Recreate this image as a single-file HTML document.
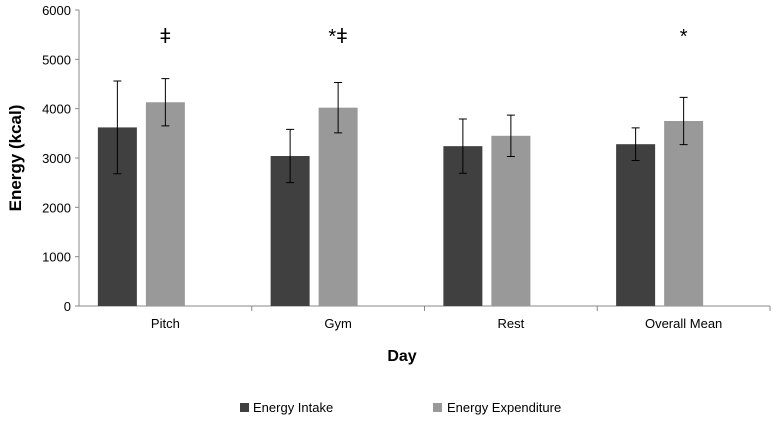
<!DOCTYPE html>
<html><head><meta charset="utf-8"><style>
body{margin:0;background:#fff;font-family:"Liberation Sans",sans-serif}
svg text{font-family:"Liberation Sans","DejaVu Sans",sans-serif}
</style></head><body>
<svg width="774" height="423" xmlns="http://www.w3.org/2000/svg">
<g id="chart"></g>
</svg>
<script>
const categories=["Pitch","Gym","Rest","Overall Mean"];
const intake=[3620,3040,3240,3280];
const expenditure=[4130,4020,3450,3750];
const intakeErr=[940,540,550,330];
const expErr=[480,510,420,480];
const annotations=["ǂ","*ǂ","","*"];
const yTicks=[0,1000,2000,3000,4000,5000,6000];
const ns="http://www.w3.org/2000/svg";
const g=document.getElementById('chart');
const x0=79,x1=770,yTop=10,yBot=306,yMax=6000;
const y=v=>yBot-(v/yMax)*(yBot-yTop);
const catW=(x1-x0)/categories.length;
const barShift=-24;
function mk(t,a,txt){const e=document.createElementNS(ns,t);for(const k in a)e.setAttribute(k,a[k]);if(txt!==undefined)e.textContent=txt;g.appendChild(e);return e;}
yTicks.forEach(v=>{
 const t=mk('text',{x:x0-8,y:y(v)+5,'text-anchor':'end','font-size':13,fill:'#000'},v);
 
 
 const l=mk('line',{x1:x0-4,x2:x0,y1:y(v),y2:y(v),stroke:'#888'});
 
 
});
const ya=mk('line',{x1:x0,x2:x0,y1:yTop,y2:yBot,stroke:'#888'});


const xa=mk('line',{x1:x0,x2:x1,y1:yBot,y2:yBot,stroke:'#888'});


const bw=39,gap=9;
categories.forEach((c,i)=>{
 const cx=x0+catW*(i+0.5);
 const bc=cx+barShift;
 const tk=mk('line',{x1:x0+catW*(i+1),x2:x0+catW*(i+1),y1:yBot,y2:yBot+5,stroke:'#888'});
 
 
 const lb=mk('text',{x:cx,y:yBot+22,'text-anchor':'middle','font-size':13},c);
 
 
 [[intake[i],intakeErr[i],'#404040',bc-gap/2-bw,'bar-intake'],[expenditure[i],expErr[i],'#999999',bc+gap/2,'bar-expenditure']].forEach(([v,e,col,bx,nm])=>{
  const r=mk('rect',{x:bx,y:y(v),width:bw,height:yBot-y(v),fill:col});
  
  
  const mx=bx+bw/2;
  const eb=mk('path',{d:`M${mx},${y(v+e)}V${y(v-e)}M${mx-4},${y(v+e)}H${mx+4}M${mx-4},${y(v-e)}H${mx+4}`,stroke:'#000','stroke-width':1,fill:'none'});
  
  
 });
 if(annotations[i]){
  const a=mk('text',{x:bc+gap/2+bw/2,y:43,'text-anchor':'middle','font-size':20},annotations[i]);
  
  
 }
});
</script>
<svg style="position:absolute;left:0;top:0" width="774" height="423">
<text x="21" y="158" transform="rotate(-90 21 158)" text-anchor="middle" font-size="17" font-weight="bold">Energy (kcal)</text>
<text x="402" y="361" text-anchor="middle" font-size="16" font-weight="bold">Day</text>
<g>
<rect x="240" y="403" width="9" height="9" fill="#404040"/>
<text x="253" y="412" font-size="13">Energy Intake</text>
<rect x="433" y="403" width="9" height="9" fill="#999999"/>
<text x="447" y="412" font-size="13">Energy Expenditure</text>
</g>
</svg>
</body></html>
